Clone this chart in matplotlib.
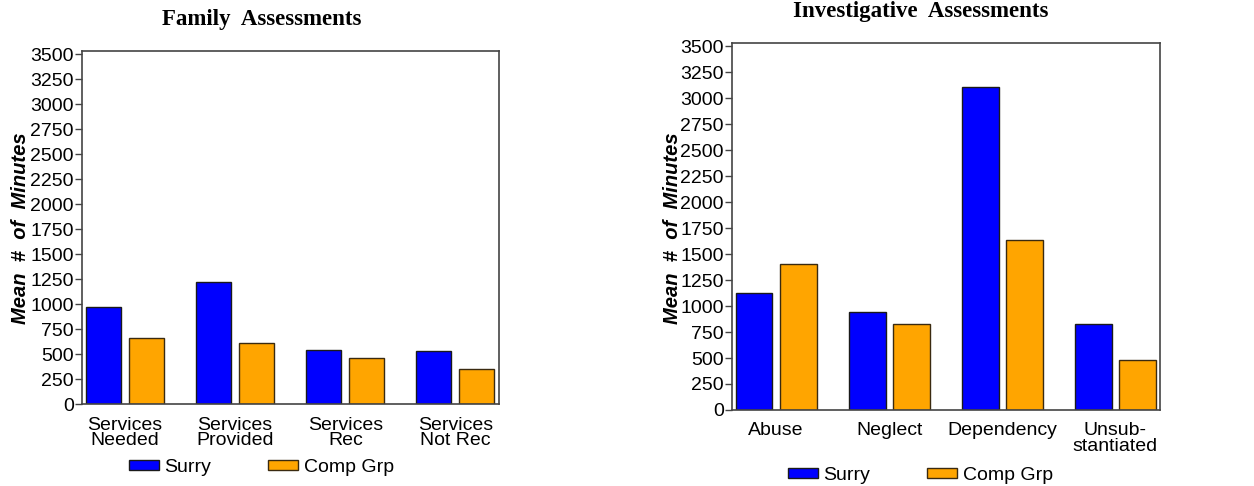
import numpy as np
import matplotlib
matplotlib.use("Agg")
import matplotlib.pyplot as plt
from matplotlib.patches import Patch

# Data
family_cats = ["Services\nNeeded", "Services\nProvided", "Services\nRec", "Services\nNot Rec"]
family_surry = [970, 1223, 543, 533]
family_comp = [663, 613, 463, 353]

invest_cats = ["Abuse", "Neglect", "Dependency", "Unsub-\nstantiated"]
invest_surry = [1128, 945, 3109, 824]
invest_comp = [1404, 824, 1631, 481]

yticks = list(range(0, 3501, 250))
series_names = ["Surry", "Comp Grp"]
colors = ["#0000ff", "#ffa500"]

plt.rcParams['font.family'] = ['Liberation Sans', 'DejaVu Sans']
fs = 14

fig = plt.figure(figsize=(12.54, 4.86), dpi=100)


# Draw one grouped bar panel
def panel(rect, title, cats, surry, comp, title_y, label_x, legend_y, bar_w, mid):
    ax = fig.add_axes(rect)
    x = np.arange(len(cats))
    off = 0.195
    ax.bar(x - off, surry, bar_w, color=colors[0], edgecolor="#1a1a1a", linewidth=1)
    ax.bar(x + off, comp, bar_w, color=colors[1], edgecolor="#3a2a10", linewidth=1)
    ax.set_xlim(-0.39, len(cats) - 1 + 0.395)
    ax.set_ylim(0, 3530)
    ax.set_yticks(yticks)
    ax.set_yticklabels([str(v) for v in yticks], fontsize=fs)
    ax.set_xticks(x)
    ax.set_xticklabels(cats, fontsize=fs, linespacing=0.85)
    ax.tick_params(axis='x', length=0, pad=9)
    ax.tick_params(axis='y', length=5, width=1, color="#444444", pad=1)
    for s in ax.spines.values():
        s.set_color("#444444")
        s.set_linewidth(1.2)
    cx = rect[0] + rect[2] * mid
    fig.text(cx, title_y, title, ha='center', va='center',
             fontsize=16.5, fontweight='bold', family='Liberation Serif')
    fig.text(label_x, 1 - 228 / 486, "Mean  #  of  Minutes", rotation=90,
             ha='center', va='center', fontsize=14.5, fontweight='bold', style='italic')
    handles = [Patch(facecolor=colors[0], edgecolor="#1a1a1a"),
               Patch(facecolor=colors[1], edgecolor="#3a2a10")]
    fig.legend(handles, series_names, loc='center', ncol=2,
               bbox_to_anchor=(cx, legend_y),
               frameon=False, fontsize=fs, handlelength=1.55, handleheight=0.42,
               handletextpad=0.3, columnspacing=2.9)
    return ax


panel([0.0654, 0.1687, 0.3325, 0.7263], "Family  Assessments",
      family_cats, family_surry, family_comp, 1 - 20 / 486, 21 / 1254, 1 - 467 / 486, 0.318, 0.43)
panel([0.5837, 0.1564, 0.3413, 0.7551], "Investigative  Assessments",
      invest_cats, invest_surry, invest_comp, 1 - 12 / 486, 672 / 1254, 1 - 475 / 486, 0.327, 0.44)

fig.savefig("out.png", dpi=100)
